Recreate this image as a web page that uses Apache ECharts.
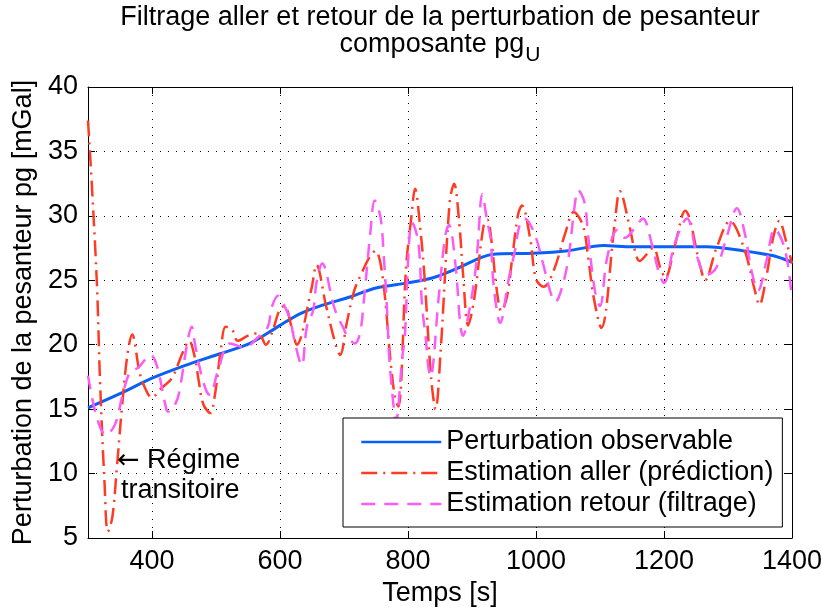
<!DOCTYPE html>
<html>
<head>
<meta charset="utf-8">
<script src="https://cdn.jsdelivr.net/npm/echarts@6/dist/echarts.min.js"></script>
<style>
  html, body { margin: 0; padding: 0; background: #fff; }
  #chart { width: 822px; height: 613px; }
</style>
</head>
<body>
<div id="chart"></div>
<script>
// Time ticks (s)
const timeTicks = [400, 600, 800, 1000, 1200, 1400];

// Observable gravity perturbation (smooth reference)
const obsTime = [300, 350, 400, 452, 506, 553, 600, 631, 662, 709, 750, 800, 839, 876, 931, 995, 1050, 1105, 1150, 1198, 1267, 1323, 1371, 1400];
const obsValue = [15.1, 16.2, 17.4, 18.4, 19.3, 20.1, 21.5, 22.4, 23.0, 23.7, 24.4, 24.8, 25.2, 25.9, 27.0, 27.1, 27.3, 27.7, 27.6, 27.6, 27.6, 27.3, 26.9, 26.4];

// Forward estimate (prediction)
const allerTime = [300, 306, 314, 319, 326, 331, 338, 345, 353, 361, 369, 380, 386, 400, 414, 431, 448, 458, 467, 473, 480, 491, 498, 508, 515, 525, 534, 550, 566, 578, 588, 600, 607, 619, 626, 649, 657, 672, 687, 694, 704, 716, 728, 740, 749, 760, 773, 780, 785, 797, 805, 811, 820, 825, 829, 833, 838, 843, 851, 865, 872, 880, 886, 894, 903, 918, 924, 931, 938, 946, 955, 963, 972, 978, 991, 1000, 1012, 1028, 1046, 1059, 1073, 1082, 1090, 1102, 1123, 1131, 1147, 1153, 1162, 1183, 1194, 1202, 1217, 1233, 1257, 1264, 1282, 1303, 1325, 1342, 1349, 1360, 1371, 1380, 1391, 1400];
const allerValue = [37.4, 32.4, 24.6, 16.9, 9.1, 5.5, 6.6, 10.4, 15.1, 19.0, 20.8, 18.0, 17.0, 15.9, 16.6, 17.4, 19.4, 20.3, 19.0, 17.2, 15.4, 14.7, 16.0, 19.8, 21.4, 21.2, 20.3, 20.7, 20.9, 20.0, 21.0, 22.8, 23.0, 21.2, 20.0, 24.3, 26.2, 23.0, 20.0, 19.2, 21.6, 24.2, 25.6, 26.8, 27.3, 25.4, 18.6, 15.8, 15.2, 26.0, 29.8, 32.1, 28.6, 25.8, 22.8, 19.5, 16.5, 15.0, 19.5, 31.0, 32.5, 29.5, 25.5, 21.5, 23.4, 29.2, 29.7, 27.8, 24.5, 22.6, 23.8, 26.8, 30.1, 30.8, 28.2, 25.1, 24.5, 25.8, 28.7, 30.3, 29.3, 26.6, 23.7, 21.3, 29.4, 31.9, 29.0, 27.6, 26.5, 27.5, 26.0, 25.2, 27.7, 30.4, 26.0, 25.0, 27.5, 29.6, 27.5, 24.2, 23.1, 25.3, 28.4, 29.6, 28.0, 26.3];

// Backward estimate (smoothing)
const retourTime = [300, 314, 328, 342, 355, 366, 378, 392, 398, 408, 423, 427, 439, 444, 455, 462, 467, 472, 478, 486, 491, 502, 522, 545, 566, 581, 587, 597, 608, 616, 624, 634, 642, 652, 657, 666, 683, 689, 698, 706, 717, 725, 731, 741, 748, 757, 762, 768, 770, 774, 778, 781, 791, 795, 801, 806, 816, 822, 828, 831, 835, 848, 858, 864, 874, 882, 886, 894, 904, 909, 916, 924, 929, 934, 944, 957, 967, 974, 982, 997, 1011, 1023, 1030, 1038, 1050, 1061, 1066, 1076, 1081, 1092, 1100, 1111, 1127, 1139, 1155, 1167, 1181, 1193, 1200, 1217, 1236, 1252, 1266, 1282, 1297, 1314, 1326, 1337, 1347, 1360, 1373, 1389, 1400];
const retourValue = [17.6, 14.3, 13.0, 13.8, 16.3, 17.9, 18.2, 19.0, 19.2, 18.3, 14.9, 14.8, 15.7, 16.7, 20.1, 21.4, 20.1, 18.8, 17.5, 16.3, 16.1, 17.8, 20.1, 19.8, 20.6, 21.4, 22.9, 23.8, 22.9, 21.9, 20.0, 18.4, 21.4, 22.7, 24.8, 26.3, 23.2, 22.3, 21.4, 20.6, 20.1, 20.9, 23.4, 28.6, 31.2, 29.9, 27.0, 22.0, 19.5, 17.0, 15.0, 14.0, 19.0, 20.6, 27.3, 29.5, 28.0, 23.0, 20.4, 18.6, 17.5, 23.7, 28.4, 29.3, 26.3, 21.4, 20.7, 22.2, 25.2, 27.7, 31.7, 29.5, 28.3, 24.5, 21.7, 25.0, 27.3, 29.2, 29.8, 28.7, 26.3, 24.0, 23.3, 24.0, 26.5, 31.0, 32.0, 31.0, 28.7, 24.2, 23.0, 26.7, 28.9, 28.3, 29.1, 29.8, 27.8, 25.4, 24.8, 27.9, 29.8, 26.8, 25.4, 26.0, 28.2, 30.6, 28.7, 25.7, 24.2, 26.5, 29.0, 27.4, 23.5];

const seriesNames = [
  'Perturbation observable',
  'Estimation aller (prédiction)',
  'Estimation retour (filtrage)'
];

const FONT = '"Liberation Sans", Arial, Helvetica, sans-serif';
const FS = 27;

function pairs(xs, ys) {
  return xs.map((x, i) => [x, ys[i]]);
}

const dotted = { color: '#000', width: 1, type: [1, 7] };

function xAxisCfg(pos, withLabels) {
  return {
    type: 'value', position: pos, min: 300, max: 1400,
    axisLine: { show: true, onZero: false, lineStyle: { color: '#000', width: 1 } },
    axisTick: { show: true, inside: true, length: 7, customValues: timeTicks, lineStyle: { color: '#000' } },
    axisLabel: { show: withLabels, customValues: timeTicks, fontSize: FS, color: '#000', fontFamily: FONT, margin: 10,
                 formatter: (v) => String(v) },
    splitLine: { show: withLabels, lineStyle: dotted },
    name: withLabels ? 'Temps [s]' : '',
    nameLocation: 'middle', nameGap: 42,
    nameTextStyle: { fontSize: FS, color: '#000', fontFamily: FONT }
  };
}

function yAxisCfg(pos, withLabels) {
  return {
    type: 'value', position: pos, min: 5, max: 40, interval: 5,
    axisLine: { show: true, onZero: false, lineStyle: { color: '#000', width: 1 } },
    axisTick: { show: true, inside: true, length: 7, lineStyle: { color: '#000' } },
    axisLabel: { show: withLabels, fontSize: FS, color: '#000', fontFamily: FONT, margin: 10 },
    splitLine: { show: withLabels, lineStyle: dotted },
    name: withLabels ? 'Perturbation de la pesanteur pg [mGal]' : '',
    nameLocation: 'middle', nameGap: 48,
    nameTextStyle: { fontSize: FS, color: '#000', fontFamily: FONT }
  };
}

const chart = echarts.init(document.getElementById('chart'), null, { renderer: 'canvas' });

chart.setOption({
  animation: false,
  backgroundColor: '#fff',
  title: {
    left: 440, top: 4, textAlign: 'center', padding: 0,
    text: '{a|Filtrage aller et retour de la perturbation de pesanteur}\n{a|composante pg}{s|U}',
    textStyle: {
      fontWeight: 'normal',
      rich: {
        a: { fontSize: FS, lineHeight: 27, color: '#000', fontFamily: FONT, fontWeight: 'normal' },
        s: { fontSize: 21, lineHeight: 27, color: '#000', fontFamily: FONT, fontWeight: 'normal',
             verticalAlign: 'top', padding: [14, 0, 0, 1] }
      }
    }
  },
  grid: { left: 88, right: 30, top: 87, bottom: 75, containLabel: false, outerBoundsMode: 'none' },
  xAxis: [xAxisCfg('bottom', true), xAxisCfg('top', false)],
  yAxis: [yAxisCfg('left', true), yAxisCfg('right', false)],
  legend: {
    orient: 'vertical', left: 343, top: 418,
    padding: [10, 9, 9, 17],
    itemWidth: 80, itemHeight: 14, itemGap: 3,
    borderColor: '#000', borderWidth: 1, borderRadius: 0,
    backgroundColor: '#fff',
    selectedMode: false,
    textStyle: { fontSize: FS, color: '#000', fontFamily: FONT, lineHeight: 28 },
    itemStyle: { opacity: 0 },
    lineStyle: { width: 2.5 },
    data: seriesNames
  },
  graphic: [
    { type: 'text', left: 117, top: 447, z: 10,
      style: {
        text: '{ar|\u2190} Régime',
        font: FS + 'px ' + FONT, fill: '#000',
        rich: { ar: { fontFamily: '"DejaVu Sans", sans-serif', fontSize: 27, fill: '#000' } }
      } },
    { type: 'text', left: 121, top: 477, z: 10,
      style: { text: 'transitoire', font: FS + 'px ' + FONT, fill: '#000' } }
  ],
  series: [
    {
      name: seriesNames[0], type: 'line', data: pairs(obsTime, obsValue),
      symbol: 'none', smooth: 0.3,
      lineStyle: { color: '#0b5ff7', width: 3 },
      itemStyle: { color: '#0b5ff7' }
    },
    {
      name: seriesNames[1], type: 'line', data: pairs(allerTime, allerValue),
      symbol: 'none', smooth: 0.35,
      lineStyle: { color: '#ff3b24', width: 2.5, type: [16, 6, 2, 6] },
      itemStyle: { color: '#ff3b24' }
    },
    {
      name: seriesNames[2], type: 'line', data: pairs(retourTime, retourValue),
      symbol: 'none', smooth: 0.35,
      lineStyle: { color: '#fb5cf8', width: 2.5, type: [14, 9] },
      itemStyle: { color: '#fb5cf8' }
    }
  ]
});
</script>
</body>
</html>
